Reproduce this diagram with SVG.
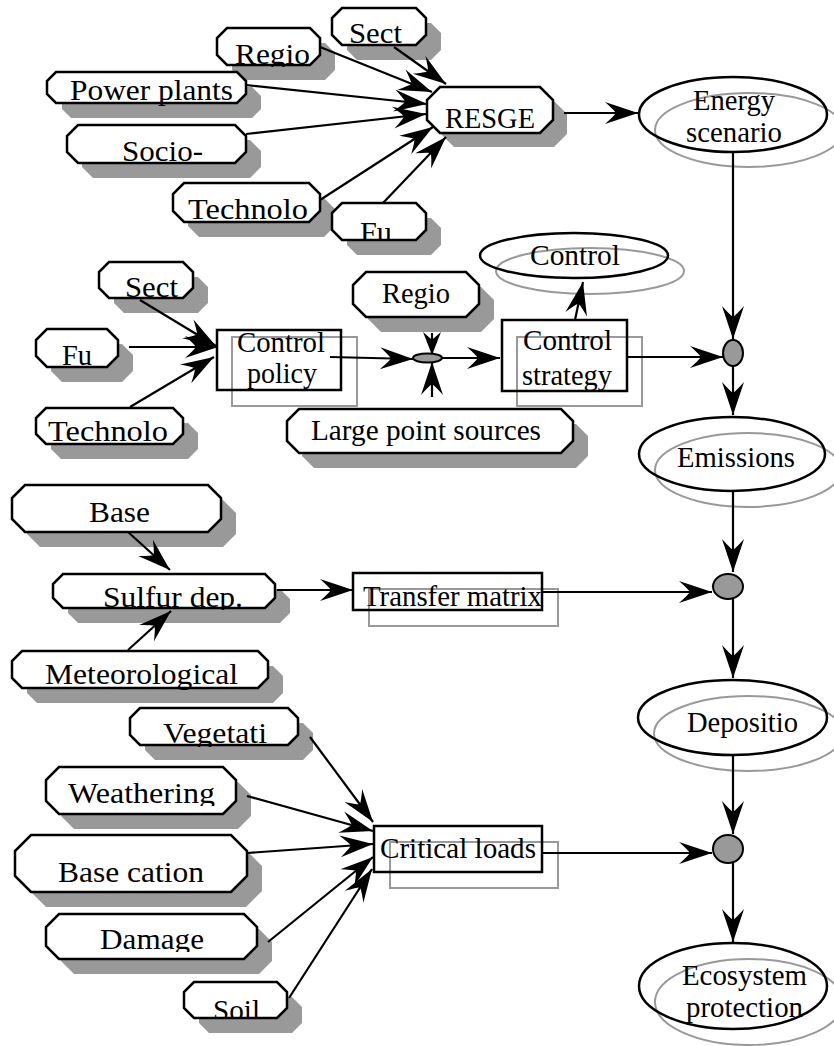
<svg xmlns="http://www.w3.org/2000/svg" width="834" height="1046" viewBox="0 0 834 1046">
  <style>
    .oct { fill: #fff; stroke: #000; stroke-width: 2.5; stroke-linejoin: miter; }
    .shadow { fill: #999; stroke: none; }
    .box { fill: none; stroke: #000; stroke-width: 2.5; }
    .ghost { fill: none; stroke: #999; stroke-width: 2; }
    .dot { fill: #999; stroke: #000; stroke-width: 2; }
    .lbl { font-family: "Liberation Serif", "Times New Roman", serif; font-size: 29px; fill: #000; }
    #connectors line { stroke: #000; stroke-width: 2.2; fill: none; marker-end: url(#arrow); }
    #connectors line.short { marker-end: url(#arrow-s); }
  </style>
  <defs>
    <marker id="arrow" markerUnits="userSpaceOnUse" orient="auto" refX="0" refY="0"
            markerWidth="40" markerHeight="30" viewBox="-36 -15 40 30" overflow="visible">
      <path d="M0,0 L-33,-11 Q-24,-3 -22,0 Q-24,3 -33,11 Z" fill="#000"/>
    </marker>
    <marker id="arrow-s" markerUnits="userSpaceOnUse" orient="auto" refX="0" refY="0"
            markerWidth="30" markerHeight="24" viewBox="-26 -12 30 24" overflow="visible">
      <path d="M0,0 L-23,-9 Q-17,-2 -15,0 Q-17,2 -23,9 Z" fill="#000"/>
    </marker>
    <!-- label cut-offs at the lower edge of some octagon nodes -->
    <clipPath id="cut-regio1"><rect width="834" height="67"/></clipPath>
    <clipPath id="cut-power"><rect width="834" height="106"/></clipPath>
    <clipPath id="cut-fu1"><rect width="834" height="240"/></clipPath>
    <clipPath id="cut-sulfur"><rect width="834" height="610"/></clipPath>
    <clipPath id="cut-meteo"><rect width="834" height="690"/></clipPath>
    <clipPath id="cut-veg"><rect width="834" height="747"/></clipPath>
    <clipPath id="cut-weath"><rect width="834" height="806"/></clipPath>
    <clipPath id="cut-damage"><rect width="834" height="952"/></clipPath>
    <clipPath id="cut-soil"><rect width="834" height="1018"/></clipPath>
  </defs>

  <rect width="834" height="1046" fill="#fff"/>

  <!-- ===== input nodes: energy model ===== -->
  <g id="n-sect1">
    <polygon class="shadow" transform="translate(15 15)" points="342,8 416,8 426,18 426,35 416,45 342,45 332,35 332,18"/>
    <polygon class="oct" points="342,8 416,8 426,18 426,35 416,45 342,45 332,35 332,18"/>
    <text class="lbl" x="349" y="43" textLength="53" lengthAdjust="spacingAndGlyphs">Sect</text>
  </g>
  <g id="n-regio1">
    <polygon class="shadow" transform="translate(15 15)" points="227,28 310,28 320,38 320,55 310,65 227,65 217,55 217,38"/>
    <polygon class="oct" points="227,28 310,28 320,38 320,55 310,65 227,65 217,55 217,38"/>
    <text class="lbl" x="235" y="64" textLength="75" lengthAdjust="spacingAndGlyphs" clip-path="url(#cut-regio1)">Regio</text>
  </g>
  <g id="n-power">
    <polygon class="shadow" transform="translate(15 15)" points="56,72 237,72 246,81 246,94 237,103 56,103 47,94 47,81"/>
    <polygon class="oct" points="56,72 237,72 246,81 246,94 237,103 56,103 47,94 47,81"/>
    <text class="lbl" x="70" y="100" textLength="163" lengthAdjust="spacingAndGlyphs" clip-path="url(#cut-power)">Power plants</text>
  </g>
  <g id="n-socio">
    <polygon class="shadow" transform="translate(15 15)" points="78,125 235,125 246,136 246,152 235,163 78,163 67,152 67,136"/>
    <polygon class="oct" points="78,125 235,125 246,136 246,152 235,163 78,163 67,152 67,136"/>
    <text class="lbl" x="122" y="161" textLength="81" lengthAdjust="spacingAndGlyphs">Socio-</text>
  </g>
  <g id="n-tech1">
    <polygon class="shadow" transform="translate(15 15)" points="184,183 309,183 320,194 320,211 309,222 184,222 173,211 173,194"/>
    <polygon class="oct" points="184,183 309,183 320,194 320,211 309,222 184,222 173,211 173,194"/>
    <text class="lbl" x="188" y="219" textLength="120" lengthAdjust="spacingAndGlyphs">Technolo</text>
  </g>
  <g id="n-fu1">
    <polygon class="shadow" transform="translate(15 15)" points="342,203 416,203 426,213 426,230 416,240 342,240 332,230 332,213"/>
    <polygon class="oct" points="342,203 416,203 426,213 426,230 416,240 342,240 332,230 332,213"/>
    <text class="lbl" x="360" y="242" textLength="32" lengthAdjust="spacingAndGlyphs" clip-path="url(#cut-fu1)">Fu</text>
  </g>
  <g id="n-resge">
    <polygon class="shadow" transform="translate(14 14)" points="440,87 540,87 553,100 553,120 540,133 440,133 427,120 427,100"/>
    <polygon class="oct" points="440,87 540,87 553,100 553,120 540,133 440,133 427,120 427,100"/>
    <text class="lbl" x="445" y="128" textLength="90" lengthAdjust="spacingAndGlyphs">RESGE</text>
  </g>

  <!-- ===== outcome ellipses ===== -->
  <g id="n-energy">
    <ellipse class="ghost" cx="749" cy="130" rx="94" ry="37"/>
    <ellipse class="box" cx="733" cy="114.5" rx="94" ry="37.5"/>
    <text class="lbl" x="693" y="110" textLength="82" lengthAdjust="spacingAndGlyphs">Energy</text>
    <text class="lbl" x="686" y="142" textLength="96" lengthAdjust="spacingAndGlyphs">scenario</text>
  </g>
  <g id="n-control-out">
    <ellipse class="ghost" cx="590" cy="271" rx="94" ry="23"/>
    <ellipse class="box" cx="574" cy="255.5" rx="94" ry="22.5"/>
    <text class="lbl" x="530" y="265" textLength="90" lengthAdjust="spacingAndGlyphs">Control</text>
  </g>
  <g id="n-emissions">
    <ellipse class="ghost" cx="748" cy="470" rx="93" ry="37"/>
    <ellipse class="box" cx="732" cy="454" rx="93" ry="37"/>
    <text class="lbl" x="677" y="467" textLength="118" lengthAdjust="spacingAndGlyphs">Emissions</text>
  </g>
  <g id="n-deposition">
    <ellipse class="ghost" cx="748.5" cy="733.5" rx="94.5" ry="37.5"/>
    <ellipse class="box" cx="732.5" cy="717.5" rx="94.5" ry="37.5"/>
    <text class="lbl" x="687" y="732" textLength="111" lengthAdjust="spacingAndGlyphs">Depositio</text>
  </g>
  <g id="n-ecosystem">
    <ellipse class="ghost" cx="749" cy="1002" rx="94" ry="43"/>
    <ellipse class="box" cx="733" cy="986" rx="94" ry="43"/>
    <text class="lbl" x="682" y="985" textLength="125" lengthAdjust="spacingAndGlyphs">Ecosystem</text>
    <text class="lbl" x="686" y="1017" textLength="117" lengthAdjust="spacingAndGlyphs">protection</text>
  </g>

  <!-- ===== control policy section ===== -->
  <g id="n-sect2">
    <polygon class="shadow" transform="translate(15 15)" points="109,262 183,262 193,272 193,288 183,298 109,298 99,288 99,272"/>
    <polygon class="oct" points="109,262 183,262 193,272 193,288 183,298 109,298 99,288 99,272"/>
    <text class="lbl" x="125" y="297" textLength="53" lengthAdjust="spacingAndGlyphs">Sect</text>
  </g>
  <g id="n-fu2">
    <polygon class="shadow" transform="translate(15 15)" points="47,329 107,329 118,340 118,356 107,367 47,367 36,356 36,340"/>
    <polygon class="oct" points="47,329 107,329 118,340 118,356 107,367 47,367 36,356 36,340"/>
    <text class="lbl" x="62" y="365" textLength="30" lengthAdjust="spacingAndGlyphs">Fu</text>
  </g>
  <g id="n-tech2">
    <polygon class="shadow" transform="translate(15 15)" points="46,408 173,408 183,418 183,434 173,444 46,444 36,434 36,418"/>
    <polygon class="oct" points="46,408 173,408 183,418 183,434 173,444 46,444 36,434 36,418"/>
    <text class="lbl" x="48" y="441" textLength="120" lengthAdjust="spacingAndGlyphs">Technolo</text>
  </g>
  <g id="n-policy">
    <rect class="ghost" x="232" y="337" width="125" height="69"/>
    <rect class="box" x="217" y="330" width="124" height="60"/>
    <text class="lbl" x="237" y="352" textLength="88" lengthAdjust="spacingAndGlyphs">Control</text>
    <text class="lbl" x="247" y="383" textLength="70" lengthAdjust="spacingAndGlyphs">policy</text>
  </g>
  <g id="n-regio2">
    <polygon class="shadow" transform="translate(15 15)" points="366,272 466,272 479,285 479,304 466,317 366,317 353,304 353,285"/>
    <polygon class="oct" points="366,272 466,272 479,285 479,304 466,317 366,317 353,304 353,285"/>
    <text class="lbl" x="382" y="303" textLength="68" lengthAdjust="spacingAndGlyphs">Regio</text>
  </g>
  <g id="n-lps">
    <polygon class="shadow" transform="translate(15 15)" points="299,409 561,409 573,421 573,441 561,453 299,453 287,441 287,421"/>
    <polygon class="oct" points="299,409 561,409 573,421 573,441 561,453 299,453 287,441 287,421"/>
    <text class="lbl" x="311" y="440" textLength="230" lengthAdjust="spacingAndGlyphs">Large point sources</text>
  </g>
  <g id="n-strategy">
    <rect class="ghost" x="517" y="337" width="125" height="69"/>
    <rect class="box" x="502" y="320" width="125" height="71"/>
    <text class="lbl" x="523" y="350" textLength="89" lengthAdjust="spacingAndGlyphs">Control</text>
    <text class="lbl" x="522" y="385" textLength="90" lengthAdjust="spacingAndGlyphs">strategy</text>
  </g>

  <!-- ===== deposition section ===== -->
  <g id="n-base">
    <polygon class="shadow" transform="translate(15 15)" points="25,485 208,485 221,498 221,519 208,532 25,532 12,519 12,498"/>
    <polygon class="oct" points="25,485 208,485 221,498 221,519 208,532 25,532 12,519 12,498"/>
    <text class="lbl" x="89" y="522" textLength="61" lengthAdjust="spacingAndGlyphs">Base</text>
  </g>
  <g id="n-sulfur">
    <polygon class="shadow" transform="translate(15 15)" points="63,574 265,574 275,584 275,598 265,608 63,608 53,598 53,584"/>
    <polygon class="oct" points="63,574 265,574 275,584 275,598 265,608 63,608 53,598 53,584"/>
    <text class="lbl" x="103" y="607" textLength="140" lengthAdjust="spacingAndGlyphs" clip-path="url(#cut-sulfur)">Sulfur dep.</text>
  </g>
  <g id="n-meteo">
    <polygon class="shadow" transform="translate(15 15)" points="22,651 258,651 268,661 268,678 258,688 22,688 12,678 12,661"/>
    <polygon class="oct" points="22,651 258,651 268,661 268,678 258,688 22,688 12,678 12,661"/>
    <text class="lbl" x="45" y="684" textLength="193" lengthAdjust="spacingAndGlyphs" clip-path="url(#cut-meteo)">Meteorological</text>
  </g>
  <g id="n-transfer">
    <rect class="ghost" x="369" y="589" width="189" height="37"/>
    <rect class="box" x="353" y="573" width="189" height="37"/>
    <text class="lbl" x="363" y="606" textLength="179" lengthAdjust="spacingAndGlyphs">Transfer matrix</text>
  </g>

  <!-- ===== critical loads section ===== -->
  <g id="n-veg">
    <polygon class="shadow" transform="translate(15 15)" points="140,708 288,708 298,718 298,735 288,745 140,745 130,735 130,718"/>
    <polygon class="oct" points="140,708 288,708 298,718 298,735 288,745 140,745 130,735 130,718"/>
    <text class="lbl" x="163" y="743" textLength="104" lengthAdjust="spacingAndGlyphs" clip-path="url(#cut-veg)">Vegetati</text>
  </g>
  <g id="n-weath">
    <polygon class="shadow" transform="translate(15 15)" points="59,767 223,767 236,780 236,801 223,814 59,814 46,801 46,780"/>
    <polygon class="oct" points="59,767 223,767 236,780 236,801 223,814 59,814 46,801 46,780"/>
    <text class="lbl" x="68" y="803" textLength="147" lengthAdjust="spacingAndGlyphs" clip-path="url(#cut-weath)">Weathering</text>
  </g>
  <g id="n-bcat">
    <polygon class="shadow" transform="translate(15 15)" points="31,835 231,835 247,851 247,876 231,892 31,892 15,876 15,851"/>
    <polygon class="oct" points="31,835 231,835 247,851 247,876 231,892 31,892 15,876 15,851"/>
    <text class="lbl" x="58" y="882" textLength="146" lengthAdjust="spacingAndGlyphs">Base cation</text>
  </g>
  <g id="n-damage">
    <polygon class="shadow" transform="translate(15 15)" points="59,914 244,914 257,927 257,946 244,959 59,959 46,946 46,927"/>
    <polygon class="oct" points="59,914 244,914 257,927 257,946 244,959 59,959 46,946 46,927"/>
    <text class="lbl" x="100" y="949" textLength="104" lengthAdjust="spacingAndGlyphs" clip-path="url(#cut-damage)">Damage</text>
  </g>
  <g id="n-soil">
    <polygon class="shadow" transform="translate(15 15)" points="194,982 277,982 287,992 287,1008 277,1018 194,1018 184,1008 184,992"/>
    <polygon class="oct" points="194,982 277,982 287,992 287,1008 277,1018 194,1018 184,1008 184,992"/>
    <text class="lbl" x="213" y="1020" textLength="47" lengthAdjust="spacingAndGlyphs" clip-path="url(#cut-soil)">Soil</text>
  </g>
  <g id="n-critical">
    <rect class="ghost" x="390" y="842" width="168" height="46"/>
    <rect class="box" x="374" y="826" width="168" height="46"/>
    <text class="lbl" x="380" y="858" textLength="156" lengthAdjust="spacingAndGlyphs">Critical loads</text>
  </g>

  <!-- ===== connectors ===== -->
  <g id="connectors">
    <line x1="394" y1="47" x2="446" y2="84"/>
    <line x1="320" y1="47" x2="432" y2="92"/>
    <line x1="246" y1="85" x2="427" y2="104"/>
    <line x1="246" y1="134" x2="426" y2="114"/>
    <line x1="320" y1="200" x2="433" y2="127"/>
    <line x1="383" y1="203" x2="446" y2="137"/>
    <line x1="564" y1="113" x2="638" y2="113"/>
    <line x1="733" y1="153" x2="733" y2="339"/>
    <line x1="140" y1="300" x2="216" y2="346"/>
    <line x1="129" y1="347" x2="218" y2="347"/>
    <line x1="130" y1="407" x2="214" y2="357"/>
    <line x1="330" y1="357" x2="413" y2="359"/>
    <line class="short" x1="432" y1="333" x2="432" y2="355"/>
    <line x1="432" y1="397" x2="432" y2="362"/>
    <line x1="441" y1="358" x2="500" y2="358"/>
    <line x1="575" y1="320" x2="583" y2="282"/>
    <line x1="627" y1="357" x2="723" y2="357"/>
    <line x1="733" y1="366" x2="733" y2="415"/>
    <line x1="733" y1="492" x2="733" y2="572"/>
    <line x1="128" y1="532" x2="170" y2="570"/>
    <line x1="128" y1="650" x2="171" y2="611"/>
    <line x1="277" y1="590" x2="353" y2="590"/>
    <line x1="542" y1="592" x2="712" y2="592"/>
    <line x1="733" y1="599" x2="733" y2="678"/>
    <line x1="733" y1="755" x2="733" y2="834"/>
    <line x1="310" y1="737" x2="373" y2="822"/>
    <line x1="247" y1="796" x2="373" y2="831"/>
    <line x1="247" y1="853" x2="373" y2="844"/>
    <line x1="268" y1="942" x2="373" y2="857"/>
    <line x1="289" y1="998" x2="372" y2="869"/>
    <line x1="543" y1="853" x2="712" y2="853"/>
    <line x1="733" y1="863" x2="733" y2="942"/>
  </g>

  <!-- ===== junction points ===== -->
  <g id="j-control"><ellipse class="dot" cx="427.5" cy="358" rx="14.5" ry="4.5"/></g>
  <g id="j-emission"><ellipse class="dot" cx="733" cy="353" rx="10" ry="13"/></g>
  <g id="j-deposition"><ellipse class="dot" cx="728" cy="586.5" rx="15" ry="12.5"/></g>
  <g id="j-protection"><ellipse class="dot" cx="728" cy="849" rx="15" ry="14"/></g>
</svg>
